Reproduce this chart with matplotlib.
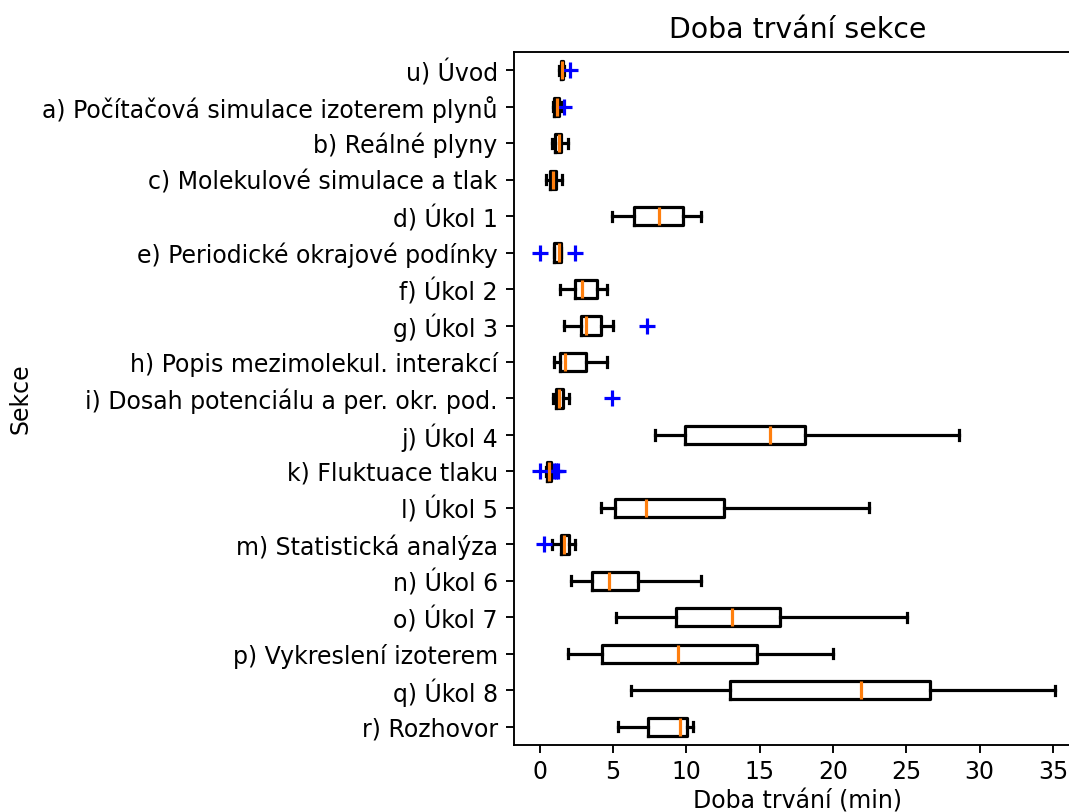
import matplotlib.pyplot as plt

# section names, listed top to bottom
sections = [
    'u) Úvod',
    'a) Počítačová simulace izoterem plynů',
    'b) Reálné plyny',
    'c) Molekulové simulace a tlak',
    'd) Úkol 1',
    'e) Periodické okrajové podínky',
    'f) Úkol 2',
    'g) Úkol 3',
    'h) Popis mezimolekul. interakcí',
    'i) Dosah potenciálu a per. okr. pod.',
    'j) Úkol 4',
    'k) Fluktuace tlaku',
    'l) Úkol 5',
    'm) Statistická analýza',
    'n) Úkol 6',
    'o) Úkol 7',
    'p) Vykreslení izoterem',
    'q) Úkol 8',
    'r) Rozhovor',
]

# box statistics (minutes)
whislo = [1.35, 0.88, 0.85, 0.42, 4.96, 0.96, 1.37, 1.69, 0.96, 0.89,
          7.87, 0.40, 4.16, 0.85, 2.15, 5.17, 1.93, 6.26, 5.32]
q1 = [1.42, 1.00, 1.03, 0.67, 6.46, 0.98, 2.39, 2.85, 1.37, 1.12,
      9.92, 0.50, 5.14, 1.46, 3.56, 9.32, 4.28, 13.01, 7.40]
med = [1.55, 1.15, 1.33, 0.89, 8.15, 1.33, 2.87, 3.17, 1.71, 1.35,
       15.71, 0.65, 7.27, 1.64, 4.72, 13.11, 9.42, 21.89, 9.57]
q3 = [1.62, 1.30, 1.44, 1.12, 9.78, 1.42, 3.92, 4.19, 3.19, 1.60,
      18.10, 0.75, 12.54, 2.03, 6.70, 16.37, 14.79, 26.61, 10.02]
whishi = [1.68, 1.45, 1.96, 1.51, 11.03, 1.45, 4.62, 4.98, 4.62, 2.01,
          28.60, 0.80, 22.48, 2.44, 11.03, 25.08, 20.03, 35.15, 10.44]
fliers = [[2.1], [1.68], [], [], [], [0.0, 2.44], [], [7.33], [], [4.9],
          [], [0.0, 0.95, 1.1, 1.25], [], [0.3], [], [], [], [], []]

stats = []
for i, name in enumerate(sections):
    stats.append(dict(label=name, whislo=whislo[i], q1=q1[i], med=med[i],
                      q3=q3[i], whishi=whishi[i], fliers=fliers[i]))

n = len(sections)
positions = [n - i for i in range(n)]

dpi = 170
lw = 1.35
fig = plt.figure(figsize=(1069 / dpi, 812 / dpi), dpi=dpi)
ax = fig.add_axes([0.481, 0.0825, 0.530, 0.8535])
ax.bxp(stats, positions=positions, orientation='horizontal',
       boxprops=dict(linewidth=lw),
       whiskerprops=dict(linewidth=lw),
       capprops=dict(linewidth=lw),
       medianprops=dict(linewidth=lw),
       flierprops=dict(marker='+', markersize=7, markeredgecolor='blue',
                       markeredgewidth=lw))
ax.set_ylim(0.5, n + 0.5)
ax.set_xlim(-1.74, 36.9)
ax.set_xticks(range(0, 36, 5))
ax.tick_params(axis='x', pad=3)
ax.set_title('Doba trvání sekce')
ax.set_xlabel('Doba trvání (min)', labelpad=2)
ax.set_ylabel('Sekce')

fig.savefig('out.png', dpi=dpi)
